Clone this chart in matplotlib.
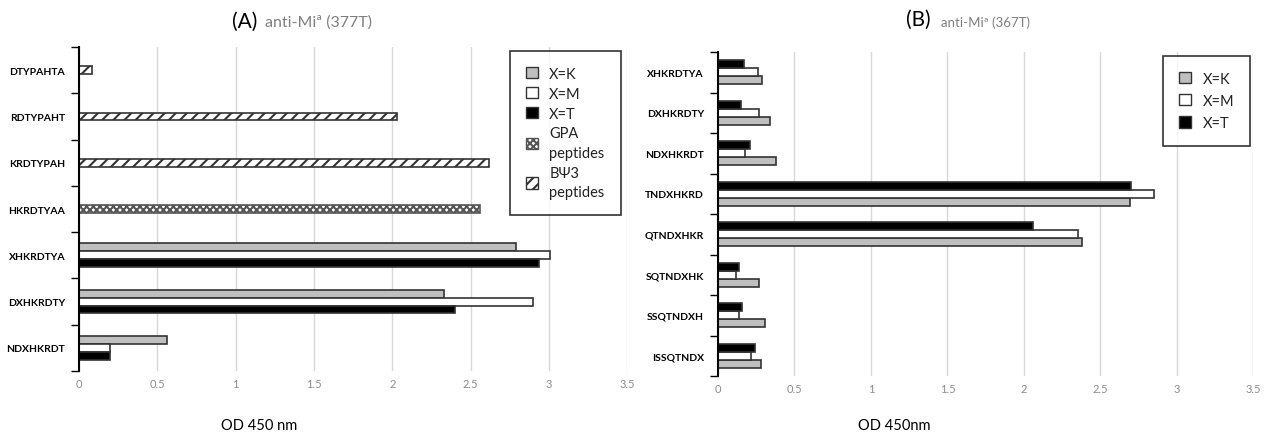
import matplotlib.pyplot as plt
import numpy as np
from matplotlib.patches import Patch

plt.rcParams['font.family'] = ['Lato', 'DejaVu Sans']
plt.rcParams['hatch.linewidth'] = 1.5

# Panel A data (categories bottom to top)
a_mixed = ['NDXHKRDT', 'DXHKRDTY', 'XHKRDTYA']
a_k = [0.56, 2.33, 2.79]
a_m = [0.20, 2.90, 3.01]
a_t = [0.20, 2.40, 2.94]
a_gpa = ['HKRDTYAA']
a_gpa_vals = [2.56]
a_bpsi = ['KRDTYPAH', 'RDTYPAHT', 'DTYPAHTA']
a_bpsi_vals = [2.62, 2.03, 0.08]

# Panel B data (categories top to bottom)
b_cats = ['XHKRDTYA', 'DXHKRDTY', 'NDXHKRDT', 'TNDXHKRD',
          'QTNDXHKR', 'SQTNDXHK', 'SSQTNDXH', 'ISSQTNDX']
b_k = [0.285, 0.34, 0.38, 2.69, 2.38, 0.27, 0.31, 0.28]
b_m = [0.265, 0.27, 0.18, 2.85, 2.35, 0.115, 0.137, 0.215]
b_t = [0.17, 0.15, 0.21, 2.70, 2.06, 0.135, 0.16, 0.245]

grey = '#bfbfbf'
ticks = [0, 0.5, 1, 1.5, 2, 2.5, 3, 3.5]
ticklabels = ['0', '0.5', '1', '1.5', '2', '2.5', '3', '3.5']


def style_axis(ax, n):
    ax.set_xlim(0, 3.5)
    ax.set_ylim(-0.5, n - 0.5)
    ax.set_xticks(ticks)
    ax.set_xticklabels(ticklabels, color='#8c8c8c', fontsize=8)
    ax.tick_params(axis='x', length=0, pad=5)
    ax.grid(axis='x', color='#d9d9d9', linewidth=1.0)
    ax.set_axisbelow(True)
    for s in ['top', 'right', 'bottom']:
        ax.spines[s].set_visible(False)
    ax.spines['left'].set_linewidth(1.5)
    ax.set_yticks(np.arange(-0.5, n), minor=True)
    ax.tick_params(axis='y', which='minor', length=6, width=1.0, direction='out')
    ax.tick_params(axis='y', which='major', length=0, pad=10, labelsize=7.5)
    for lab in ax.get_yticklabels():
        lab.set_fontweight('bold')


def make_legend(ax, handles, anchor, pad, spacing):
    leg = ax.legend(handles=handles, loc='upper right', bbox_to_anchor=anchor,
                    fontsize=10.5, frameon=True, fancybox=False, edgecolor='black',
                    handlelength=0.8, handleheight=0.8, handletextpad=0.8,
                    labelspacing=spacing, borderpad=pad, borderaxespad=0)
    leg.get_frame().set_linewidth(1.2)
    for t in leg.get_texts():
        t.set_color('#222222')
        t.set_linespacing(1.5)
    return leg


fig = plt.figure(figsize=(12.66, 4.39), dpi=100)

# ---- Panel A ----
axA = fig.add_axes([0.0624, 0.1526, 0.433, 0.738])
h = 0.17
bar_kw = dict(edgecolor='#333333', linewidth=1.2)
ya = np.arange(len(a_mixed))
axA.barh(ya + h, a_k, height=h, color=grey, **bar_kw)
axA.barh(ya, a_m, height=h, color='white', **bar_kw)
axA.barh(ya - h, a_t, height=h, color='black', **bar_kw)
yg = np.arange(len(a_gpa)) + len(a_mixed)
axA.barh(yg, a_gpa_vals, height=h, color='white', hatch='xxxxx',
         edgecolor='#555555', linewidth=1.2)
yb = np.arange(len(a_bpsi)) + len(a_mixed) + len(a_gpa)
axA.barh(yb, a_bpsi_vals, height=h, color='white', hatch='///', **bar_kw)
a_labels = a_mixed + a_gpa + a_bpsi
axA.set_yticks(np.arange(len(a_labels)))
axA.set_yticklabels(a_labels)
style_axis(axA, len(a_labels))

handlesA = [Patch(facecolor=grey, edgecolor='#333333', label='X=K'),
            Patch(facecolor='white', edgecolor='#333333', label='X=M'),
            Patch(facecolor='black', edgecolor='#333333', label='X=T'),
            Patch(facecolor='white', edgecolor='#555555', hatch='xxxxx', label='GPA\npeptides'),
            Patch(facecolor='white', edgecolor='#333333', hatch='///', label='B\u03a83\npeptides')]
make_legend(axA, handlesA, (0.988, 0.988), 1.1, 0.4)

fig.text(0.203, 0.95, '(A)', fontsize=15, ha='right', va='center')
fig.text(0.209, 0.948, 'anti-Mi\u00aa (377T)', fontsize=11.5, ha='left', va='center', color='#7f7f7f')
fig.text(0.205, 0.03, 'OD 450 nm', fontsize=10.5, ha='center', va='center')

# ---- Panel B ----
axB = fig.add_axes([0.5671, 0.1412, 0.4230, 0.7380])
hb = 0.2
yb2 = np.arange(len(b_cats))[::-1]
axB.barh(yb2 - hb, b_k, height=hb, color=grey, **bar_kw)
axB.barh(yb2, b_m, height=hb, color='white', **bar_kw)
axB.barh(yb2 + hb, b_t, height=hb, color='black', **bar_kw)
axB.set_yticks(yb2)
axB.set_yticklabels(b_cats)
style_axis(axB, len(b_cats))

make_legend(axB, handlesA[:3], (0.994, 0.988), 1.1, 0.55)

fig.text(0.735, 0.955, '(B)', fontsize=15, ha='right', va='center')
fig.text(0.743, 0.948, 'anti-Mi\u00aa (367T)', fontsize=9.5, ha='left', va='center', color='#7f7f7f')
fig.text(0.706, 0.03, 'OD 450nm', fontsize=10.5, ha='center', va='center')

fig.savefig('out.png', dpi=100)
